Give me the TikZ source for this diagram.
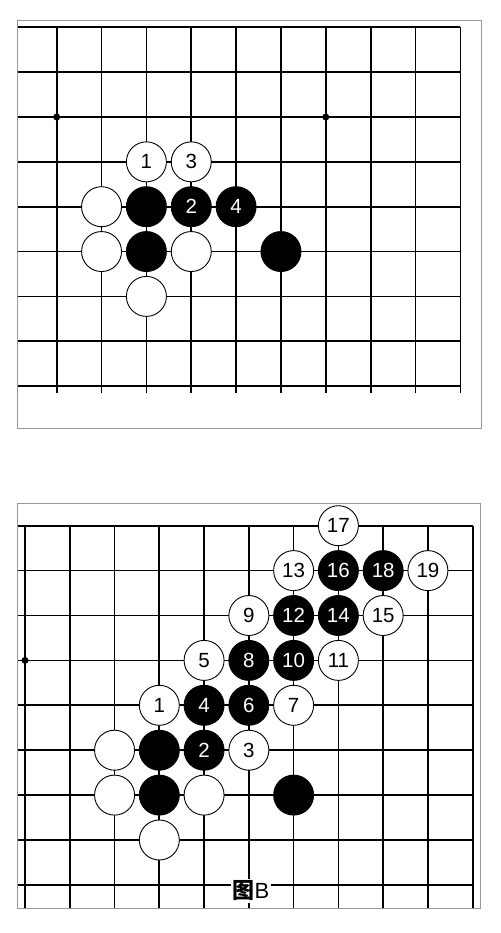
\documentclass[tikz,border=0pt]{standalone}
\usepackage{fontspec}
\setmainfont{Liberation Sans}
\newfontfamily\cjk{Noto Sans CJK SC}
\usepackage{tikz}
\usetikzlibrary{positioning}

\tikzset{
    wstone/.style={draw, circle, fill=white, minimum size=40pt, inner sep=0pt, line width=0.9pt, font=\fontsize{20.5}{20}\selectfont},
    bstone/.style={wstone, fill=black, text=white},
    gridline/.style={line width=1.7pt},
    boardframe/.style={draw=black!40, line width=1pt},
    star/.style={fill=black, circle, inner sep=0pt, minimum size=7pt}
}

\begin{document}
\begin{tikzpicture}[x=1pt, y=-1pt]
    \useasboundingbox (0,0) rectangle (500,933);
    % Frames round both boards
    \draw[boardframe] (17.5,21) rectangle (481,428);
    \draw[boardframe] (17.3,503.3) rectangle (480.7,908.5);

    % Top board
    \begin{scope}[shift={(56.7,27.3)}, x=44.85pt, y=-44.85pt]
        \foreach \r in {0,...,8} \draw[gridline] (-0.874,\r) -- (9,\r);
        \foreach \c in {0,...,9} \draw[gridline] (\c,0) -- (\c,8.154);
        \node[star] (ts1) at (0,2) {};
        \node[star] (ts2) at (6,2) {};
        % Stones
        \node[wstone] (t1) at (2,3) {1};
        \node[wstone] (t3) at (3,3) {3};
        \node[wstone] (twa) at (1,4) {};
        \node[bstone] (tba) at (2,4) {};
        \node[bstone] (t2) at (3,4) {2};
        \node[bstone] (t4) at (4,4) {4};
        \node[wstone] (twb) at (1,5) {};
        \node[bstone] (tbb) at (2,5) {};
        \node[wstone] (twc) at (3,5) {};
        \node[bstone] (tbc) at (5,5) {};
        \node[wstone] (twd) at (2,6) {};
    \end{scope}

    % Bottom board
    \begin{scope}[shift={(25,525.7)}, x=44.77pt, y=-44.9pt]
        \foreach \r in {0,...,8} \draw[gridline] (-0.15,\r) -- (10,\r);
        \foreach \c in {0,...,10} \draw[gridline] (\c,0) -- (\c,8.515);
        \node[star] (bs1) at (0,3) {};
        % Stones
        \node[wstone] (b17) at (7,0) {17};
        \node[wstone] (b13) at (6,1) {13};
        \node[bstone] (b16) at (7,1) {16};
        \node[bstone] (b18) at (8,1) {18};
        \node[wstone] (b19) at (9,1) {19};
        \node[wstone] (b9) at (5,2) {9};
        \node[bstone] (b12) at (6,2) {12};
        \node[bstone] (b14) at (7,2) {14};
        \node[wstone] (b15) at (8,2) {15};
        \node[wstone] (b5) at (4,3) {5};
        \node[bstone] (b8) at (5,3) {8};
        \node[bstone] (b10) at (6,3) {10};
        \node[wstone] (b11) at (7,3) {11};
        \node[wstone] (b1) at (3,4) {1};
        \node[bstone] (b4) at (4,4) {4};
        \node[bstone] (b6) at (5,4) {6};
        \node[wstone] (b7) at (6,4) {7};
        \node[wstone] (bwa) at (2,5) {};
        \node[bstone] (bba) at (3,5) {};
        \node[bstone] (b2) at (4,5) {2};
        \node[wstone] (b3) at (5,5) {3};
        \node[wstone] (bwb) at (2,6) {};
        \node[bstone] (bbb) at (3,6) {};
        \node[wstone] (bwc) at (4,6) {};
        \node[bstone] (bbc) at (6,6) {};
        \node[wstone] (bwd) at (3,7) {};
    \end{scope}

    % Caption
    \node[fill=white, inner sep=2pt, font=\fontsize{22}{22}\selectfont] (figB) at (251,891) {{\cjk\bfseries 图}B};
\end{tikzpicture}
\end{document}
